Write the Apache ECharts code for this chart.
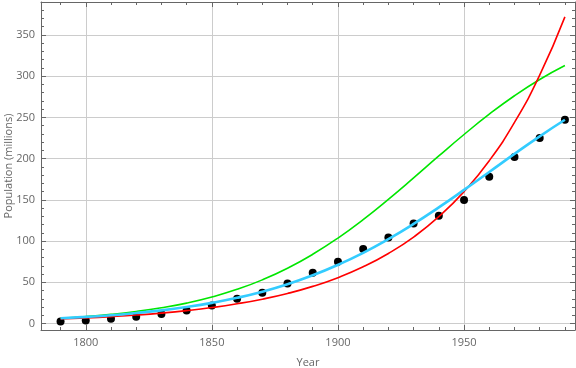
<!DOCTYPE html>
<html>
<head>
<meta charset="utf-8">
<script src="https://cdn.jsdelivr.net/npm/echarts@6/dist/echarts.min.js"></script>
<style>
html,body{margin:0;padding:0;background:#fff;}
#chart{width:576px;height:368px;}
</style>
</head>
<body>
<div id="chart"></div>
<script>
var years = [1790,1800,1810,1820,1830,1840,1850,1860,1870,1880,1890,1900,1910,1920,1930,1940,1950,1960,1970,1980,1990];
var census = [2.5,3.8,5.8,8.3,11.5,15.8,21.8,30.0,37.5,48.5,61.5,75.0,90.5,104.5,121.5,130.8,150.0,178.0,202.0,225.0,247.3];
var redCurve = [5.5,6.8,8.4,10.3,12.7,15.7,19.4,24.0,29.6,36.5,45.1,55.7,68.8,85.0,104.9,129.6,160.0,197.5,243.9,301.2,372.0];
var greenCurve = [6.4,8.5,11.1,14.6,19.1,24.8,32.2,41.5,53.0,67.1,84.0,103.7,126.1,150.7,176.7,203.3,229.3,253.9,276.3,296.0,312.9];
var cyanCurve = [6.4,8.1,10.1,12.8,16.0,20.1,25.1,31.2,38.7,47.7,58.5,71.2,85.8,102.4,120.8,140.9,162.1,183.9,205.8,227.1,247.2];

function pairs(vals){ return years.map(function(y,i){ return [y, vals[i]]; }); }

var xMin = 1782.25, xMax = 1994;
var yMin = -7.8, yMax = 390;
var axisColor = '#666';
var textStyle = {color:'#666', fontSize:11, fontFamily:'"Open Sans", "DejaVu Sans", sans-serif'};
function plain(v){ return String(Math.round(v)); }

var chart = echarts.init(document.getElementById('chart'));
chart.setOption({
  animation:false,
  backgroundColor:'#fff',
  grid:{left:41, right:1, top:2, bottom:38, containLabel:false, outerBoundsMode:'none'},
  xAxis:[{
    type:'value', min:xMin, max:xMax, splitNumber:5,
    name:'Year', nameLocation:'middle', nameGap:27, nameMoveOverlap:false,
    nameTextStyle:textStyle,
    axisLine:{show:true, onZero:false, lineStyle:{color:axisColor, width:1}},
    axisTick:{show:true, inside:true, length:5, lineStyle:{color:axisColor}},
    minorTick:{show:true, splitNumber:5, length:3, lineStyle:{color:axisColor}},
    axisLabel:Object.assign({showMinLabel:false, showMaxLabel:false, margin:7, formatter:plain}, textStyle),
    splitLine:{show:true, lineStyle:{color:'#cccccc', width:1}}
  },{
    type:'value', min:xMin, max:xMax, splitNumber:5, position:'top',
    axisLine:{show:true, onZero:false, lineStyle:{color:axisColor, width:1}},
    axisTick:{show:true, inside:true, length:5, lineStyle:{color:axisColor}},
    minorTick:{show:true, splitNumber:5, length:3, lineStyle:{color:axisColor}},
    axisLabel:{show:false},
    splitLine:{show:false}
  }],
  yAxis:[{
    type:'value', min:yMin, max:yMax, splitNumber:8,
    name:'Population (millions)', nameLocation:'middle', nameGap:27, nameMoveOverlap:false,
    nameTextStyle:textStyle,
    axisLine:{show:true, onZero:false, lineStyle:{color:axisColor, width:1}},
    axisTick:{show:true, inside:true, length:5, lineStyle:{color:axisColor}},
    minorTick:{show:true, splitNumber:5, length:3, lineStyle:{color:axisColor}},
    axisLabel:Object.assign({showMinLabel:false, showMaxLabel:false, margin:6, formatter:plain}, textStyle),
    splitLine:{show:true, lineStyle:{color:'#cccccc', width:1},
      interval:function(i, v){ return v > 1; }}
  },{
    type:'value', min:yMin, max:yMax, splitNumber:8, position:'right',
    axisLine:{show:true, onZero:false, lineStyle:{color:axisColor, width:1}},
    axisTick:{show:true, inside:true, length:5, lineStyle:{color:axisColor}},
    minorTick:{show:true, splitNumber:5, length:3, lineStyle:{color:axisColor}},
    axisLabel:{show:false},
    splitLine:{show:false}
  }],
  series:[
    {type:'scatter', data:pairs(census), symbol:'circle', symbolSize:8,
     itemStyle:{color:'#000', opacity:1}, z:2},
    {type:'line', data:pairs(greenCurve), smooth:true, showSymbol:false,
     lineStyle:{color:'#00e600', width:1.6}, z:3},
    {type:'line', data:pairs(redCurve), smooth:true, showSymbol:false,
     lineStyle:{color:'#ff0000', width:1.6}, z:4},
    {type:'line', data:pairs(cyanCurve), smooth:true, showSymbol:false,
     lineStyle:{color:'#33ccff', width:2.6}, z:5}
  ]
});
</script>
</body>
</html>
